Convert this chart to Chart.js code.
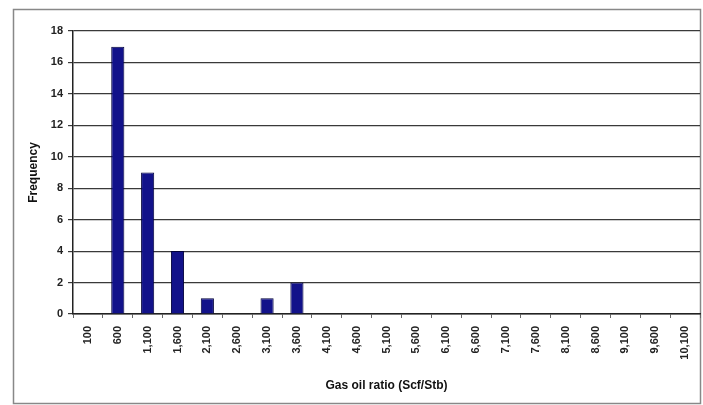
<!DOCTYPE html>
<html>
<head>
<meta charset="utf-8">
<script src="https://cdn.jsdelivr.net/npm/chart.js@4/dist/chart.umd.min.js"></script>
<style>
html,body{margin:0;padding:0;background:#fff;}
#wrap{width:703px;height:405px;}
</style>
</head>
<body>
<div id="wrap"><canvas id="c" width="703" height="405"></canvas></div>
<script>
const categories = ["100","600","1,100","1,600","2,100","2,600","3,100","3,600","4,100","4,600","5,100","5,600","6,100","6,600","7,100","7,600","8,100","8,600","9,100","9,600","10,100"];
const frequency = [0,17,9,4,1,0,1,2,0,0,0,0,0,0,0,0,0,0,0,0,0];
const yTicks = [0,2,4,6,8,10,12,14,16,18];
const xTitle = "Gas oil ratio (Scf/Stb)";
const yTitle = "Frequency";

const frame = {
  id: 'frame',
  beforeDraw(chart) {
    const ctx = chart.ctx;
    ctx.save();
    ctx.fillStyle = '#fff';
    ctx.fillRect(0, 0, chart.width, chart.height);
    ctx.strokeStyle = '#888';
    ctx.lineWidth = 1.5;
    ctx.strokeRect(13.5, 9.5, 687, 394);
    ctx.restore();
  }
};

const family = "'Liberation Sans', Arial, sans-serif";
const tickFont = {family: family, size: 11, weight: 'bold'};
const titleFont = {family: family, size: 12, weight: 'bold'};

new Chart(document.getElementById('c'), {
  type: 'bar',
  data: {
    labels: categories,
    datasets: [{
      data: frequency,
      backgroundColor: '#12128a',
      borderColor: '#00003a',
      borderWidth: 1,
      barPercentage: 0.44,
      categoryPercentage: 1.0
    }]
  },
  options: {
    responsive: false,
    animation: false,
    layout: {padding: {left: 13, top: 31, right: 3, bottom: 5}},
    plugins: {legend: {display: false}, tooltip: {enabled: false}},
    scales: {
      x: {
        afterFit(s) { s.height = 86; s.paddingLeft = 0; s.paddingRight = 0; },
        grid: {drawOnChartArea: false, drawTicks: true, tickLength: 4, color: '#666'},
        border: {display: true, color: '#222', width: 1.5},
        ticks: {color: '#222', font: tickFont, minRotation: 90, maxRotation: 90, autoSkip: false, padding: 8},
        title: {display: true, text: xTitle, color: '#111', font: titleFont, padding: {top: 0, bottom: 7}}
      },
      y: {
        min: 0, max: 18,
        afterFit(s) { s.width = 60; },
        afterBuildTicks(s) { s.ticks = yTicks.map(v => ({value: v})); },
        grid: {color: '#3a3a3a', lineWidth: 1.2, tickLength: 5},
        border: {display: true, color: '#222', width: 1.5},
        ticks: {color: '#222', font: tickFont, padding: 5},
        title: {display: true, text: yTitle, color: '#111', font: titleFont, padding: {top: 13, bottom: 0}}
      }
    }
  },
  plugins: [frame]
});
</script>
</body>
</html>
